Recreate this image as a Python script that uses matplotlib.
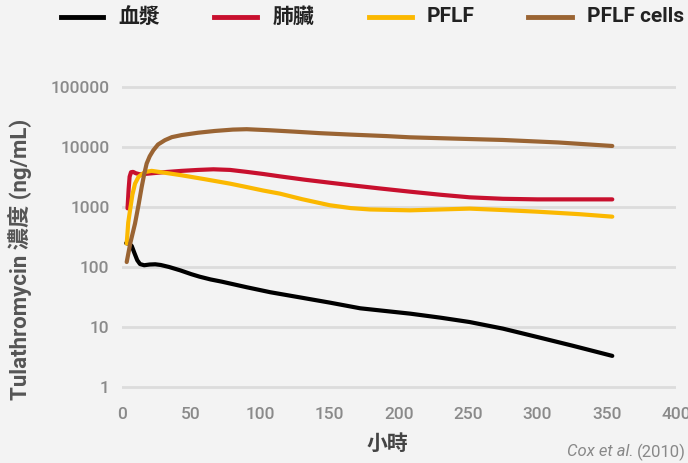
import matplotlib
matplotlib.use("Agg")
import matplotlib.pyplot as plt
from matplotlib.lines import Line2D

# ---- data ----
plasma_t = [3, 5, 7, 9, 11, 13, 16, 20, 24, 28, 34, 42, 50, 56, 64, 72, 90, 107, 129, 150, 172, 190,
            208, 230, 251, 275, 300, 325, 354]
plasma_v = [250, 245, 225, 170, 130, 112, 107, 110, 111, 108, 100, 88, 76, 69, 62, 57, 46, 38, 31, 25.5,
            20.5, 18.5, 16.7, 14.3, 12.1, 9.4, 6.8, 4.9, 3.3]

lung_t = [4, 4.8, 5.5, 6.5, 8, 10, 13, 19, 30, 43, 55, 66, 78, 90, 102, 114, 132, 150, 168, 186, 208,
          230, 251, 275, 300, 354]
lung_v = [950, 2000, 3200, 3800, 3850, 3650, 3500, 3600, 3800, 4000, 4150, 4250, 4150, 3850, 3550, 3240,
          2850, 2540, 2270, 2040, 1800, 1600, 1450, 1370, 1340, 1340]

pflf_t = [3.4, 4.5, 5.8, 7.5, 9.4, 12, 16.6, 21.4, 30, 43, 60, 78, 90, 102, 114, 130, 150, 165, 179, 208,
          230, 251, 275, 300, 330, 354]
pflf_v = [245, 550, 880, 1600, 2450, 3200, 3830, 4000, 3750, 3380, 2900, 2450, 2150, 1880, 1670, 1350,
          1070, 960, 910, 880, 910, 940, 890, 835, 760, 690]

cells_t = [3.4, 6, 9.4, 12, 14.2, 16, 17.8, 20, 22.6, 26, 31, 36, 43, 55, 67, 80, 90, 107, 125, 143, 165,
           191, 208, 240, 275, 315, 354]
cells_v = [121, 250, 530, 1100, 2150, 3500, 5300, 7000, 8800, 11000, 13000, 14600, 15800, 17300, 18500,
           19500, 19800, 19000, 18000, 17000, 16100, 15200, 14500, 13800, 13100, 11900, 10400]

series_names = ["血漿", "肺臟", "PFLF", "PFLF cells"]
series_colors = ["#000000", "#c8102e", "#fbb800", "#9a6433"]

x_ticks = [0, 50, 100, 150, 200, 250, 300, 350, 400]
y_ticks = [1, 10, 100, 1000, 10000, 100000]
y_tick_labels = ["1", "10", "100", "1000", "10000", "100000"]

# ---- figure ----
W, H = 688, 463
fig = plt.figure(figsize=(W / 100, H / 100), dpi=100)
fig.patch.set_facecolor("#f3f3f3")

ax_left, ax_right = 122, 676
ax_top, ax_bot = 84, 390
ax = fig.add_axes([ax_left / W, 1 - ax_bot / H, (ax_right - ax_left) / W, (ax_bot - ax_top) / H])
ax.set_facecolor("#f3f3f3")
ax.set_yscale("log")
ax.set_xlim(0, 400)
ax.set_ylim(10 ** (-3 / 60), 10 ** (5 + 3 / 60))

for s in ax.spines.values():
    s.set_visible(False)

ax.set_yticks(y_ticks)
ax.set_yticklabels(y_tick_labels)
ax.minorticks_off()
ax.set_xticks(x_ticks)
ax.tick_params(axis="both", length=0, colors="#8a8a8a", labelsize=12.5)
ax.tick_params(axis="y", pad=9)
ax.tick_params(axis="x", pad=12)
for lab in ax.get_xticklabels() + ax.get_yticklabels():
    lab.set_family(["Roboto", "DejaVu Sans"])
    lab.set_fontweight("medium")

ax.yaxis.grid(True, color="#dcdcdc", linewidth=2)
ax.xaxis.grid(False)
ax.set_axisbelow(True)

data = [(plasma_t, plasma_v), (lung_t, lung_v), (pflf_t, pflf_v), (cells_t, cells_v)]
for (t, v), c in zip(data, series_colors):
    ax.plot(t, v, color=c, linewidth=3, solid_capstyle="round", solid_joinstyle="round")

# axis labels
fam = ["Roboto", "Noto Sans CJK TC", "DejaVu Sans"]
fig.text(20 / W, 1 - 259 / H, "Tulathromycin 濃度 (ng/mL)", rotation=90, ha="center", va="center",
         fontsize=16, fontweight="bold", color="#555555", family=fam)
fig.text(387 / W, 1 - 444 / H, "小時", ha="center", va="center",
         fontsize=15, fontweight="bold", color="#444444", family=fam)

# source note
fig.text(634 / W, 1 - 452 / H, "Cox et al.", ha="right", va="center", fontsize=12,
         style="italic", color="#888888", family=["Roboto", "DejaVu Sans"])
fig.text(637 / W, 1 - 452 / H, "(2010)", ha="left", va="center", fontsize=12,
         color="#888888", family=["Roboto", "DejaVu Sans"])

# legend (manual layout, pixel positions from reference)
leg_y = 1 - 17 / H
line_x = [(61, 103), (214, 257), (369, 412), (528, 572)]
text_x = [118, 273, 427, 587]
for (x0, x1), tx, name, c in zip(line_x, text_x, series_names, series_colors):
    fig.add_artist(Line2D([x0 / W, x1 / W], [leg_y, leg_y], color=c, linewidth=3.5,
                          transform=fig.transFigure))
    fig.text(tx / W, leg_y, name, ha="left", va="center", fontsize=15, fontweight="bold",
             color="#222222", family=fam)

fig.savefig("out.png", dpi=100, facecolor=fig.get_facecolor())
